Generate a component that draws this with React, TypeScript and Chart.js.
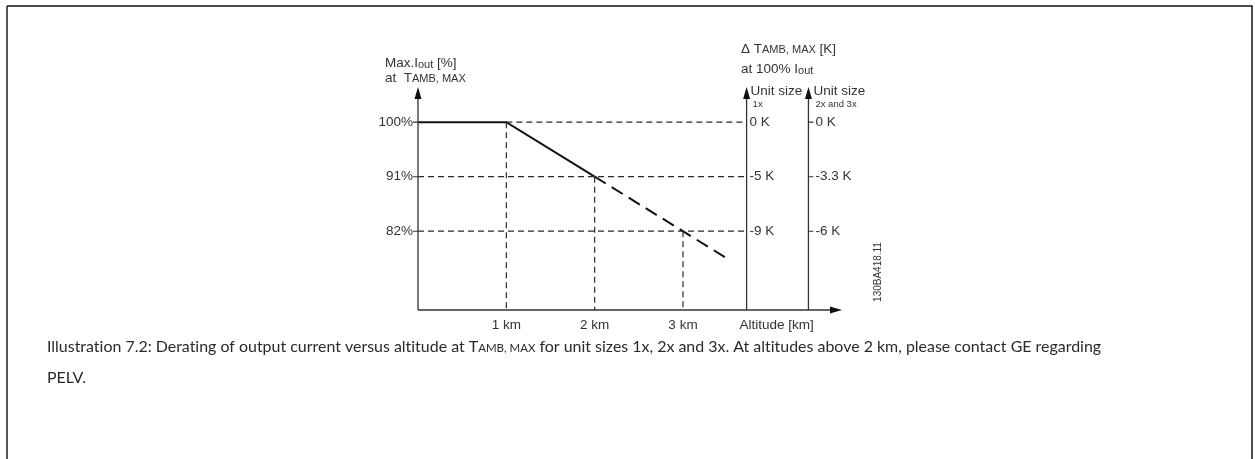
import React, { useEffect, useRef } from "react";
import { Chart, registerables } from "chart.js";

Chart.register(...registerables);

// ---- data ----
const DERATING_SOLID_KM = [0, 1, 2];
const DERATING_SOLID_PCT = [100, 100, 91];
const DERATING_DASHED_KM = [2, 3.5];
const DERATING_DASHED_PCT = [91, 77.5];

const LEVELS_PCT = [100, 91, 82];
const LEVEL_LABELS = ["100%", "91%", "82%"];
const LEVEL_START_KM = [1, 0, 0];
const DELTA_1X_LABELS = ["0 K", "-5 K", "-9 K"];
const DELTA_2X_LABELS = ["0 K", "-3.3 K", "-6 K"];

const KM_TICKS = [1, 2, 3];
const KM_LABELS = ["1 km", "2 km", "3 km"];
const KM_TICK_TOP_PCT = [100, 91, 82];

const AXIS_1X_KM = 3.72;
const AXIS_2X_KM = 4.42;
const X_MAX_KM = 4.8;
const Y_MIN_PCT = 69;
const Y_MAX_PCT = 105.8;

const CAPTION_A = "Illustration 7.2: Derating of output current versus altitude at T";
const CAPTION_SUB = "AMB, MAX";
const CAPTION_B = " for unit sizes 1x, 2x and 3x. At altitudes above 2 km, please contact GE regarding";
const CAPTION_LINE2 = "PELV.";

const LABEL_FONT = '"Liberation Sans", Arial, sans-serif';
const CAPTION_FONT = 'Lato, "Noto Sans", sans-serif';
const TEXT_COLOR = "#333";
const LINE_COLOR = "#2a2a2a";
const FS = 13.5;
const FS_SUB = 11;

type Part = { t: string; size: number; dy?: number };

// break "ti"/"fi" ligatures so caption reads like the reference
const noLig = (s: string) => s.replace(/([tf])([il])/g, "$1\u200C$2");

function drawParts(ctx: CanvasRenderingContext2D, x: number, y: number, parts: Part[], family: string) {
  let cx = x;
  for (const p of parts) {
    ctx.font = `${p.size}px ${family}`;
    ctx.fillText(p.t, cx, y + (p.dy || 0));
    cx += ctx.measureText(p.t).width;
  }
  return cx;
}

const overlay = {
  id: "overlay",
  afterDatasetsDraw(chart: any) {
    const ctx: CanvasRenderingContext2D = chart.ctx;
    const xs = chart.scales.x;
    const ys = chart.scales.y;
    const X = (v: number) => xs.getPixelForValue(v);
    const Y = (v: number) => ys.getPixelForValue(v);
    const x0 = X(0);
    const yb = Y(Y_MIN_PCT);
    const yt = Y(Y_MAX_PCT);
    const xe = X(X_MAX_KM);

    ctx.save();
    // frame
    ctx.strokeStyle = "#555";
    ctx.lineWidth = 2;
    ctx.beginPath();
    ctx.moveTo(7, 459);
    ctx.lineTo(7, 6);
    ctx.stroke();
    ctx.strokeStyle = "#111";
    ctx.lineWidth = 1.5;
    ctx.beginPath();
    ctx.moveTo(7, 6);
    ctx.lineTo(1252, 6);
    ctx.lineTo(1252, 459);
    ctx.stroke();

    // axes
    ctx.strokeStyle = "#333";
    ctx.fillStyle = "#111";
    ctx.lineWidth = 1.3;
    const vAxis = (px: number) => {
      ctx.beginPath();
      ctx.moveTo(px, yb);
      ctx.lineTo(px, yt + 10);
      ctx.stroke();
      ctx.beginPath();
      ctx.moveTo(px, yt);
      ctx.lineTo(px - 3.5, yt + 12);
      ctx.lineTo(px + 3.5, yt + 12);
      ctx.closePath();
      ctx.fill();
    };
    vAxis(x0);
    vAxis(X(AXIS_1X_KM));
    vAxis(X(AXIS_2X_KM));
    ctx.beginPath();
    ctx.moveTo(x0, yb);
    ctx.lineTo(xe - 10, yb);
    ctx.stroke();
    ctx.beginPath();
    ctx.moveTo(xe, yb);
    ctx.lineTo(xe - 12, yb - 3.5);
    ctx.lineTo(xe - 12, yb + 3.5);
    ctx.closePath();
    ctx.fill();

    // ticks
    ctx.lineWidth = 1.1;
    const x2 = X(AXIS_2X_KM);
    LEVELS_PCT.forEach((v) => {
      ctx.beginPath();
      ctx.moveTo(x0 - 5, Y(v));
      ctx.lineTo(x0, Y(v));
      ctx.moveTo(x2, Y(v));
      ctx.lineTo(x2 + 5, Y(v));
      ctx.stroke();
    });

    // tick labels
    ctx.fillStyle = TEXT_COLOR;
    ctx.font = `${FS}px ${LABEL_FONT}`;
    ctx.textBaseline = "middle";
    ctx.textAlign = "right";
    LEVELS_PCT.forEach((v, i) => ctx.fillText(LEVEL_LABELS[i], x0 - 5, Y(v)));
    ctx.textAlign = "left";
    const x1 = X(AXIS_1X_KM);
    LEVELS_PCT.forEach((v, i) => {
      ctx.fillText(DELTA_1X_LABELS[i], x1 + 3, Y(v));
      ctx.fillText(DELTA_2X_LABELS[i], x2 + 7, Y(v));
    });
    ctx.textAlign = "center";
    KM_TICKS.forEach((k, i) => ctx.fillText(KM_LABELS[i], X(k), yb + 15));
    ctx.fillText("Altitude [km]", X(AXIS_1X_KM) + 30, yb + 15);

    // axis titles
    ctx.textAlign = "left";
    drawParts(ctx, 385, 63, [
      { t: "Max.I", size: FS },
      { t: "out", size: FS_SUB, dy: 2 },
      { t: " [%]", size: FS },
    ], LABEL_FONT);
    drawParts(ctx, 385, 78, [
      { t: "at  T", size: FS },
      { t: "AMB, MAX", size: FS_SUB, dy: 0.8 },
    ], LABEL_FONT);
    drawParts(ctx, 741, 49, [
      { t: "Δ T", size: FS },
      { t: "AMB, MAX", size: FS_SUB, dy: 0.8 },
      { t: " [K]", size: FS },
    ], LABEL_FONT);
    drawParts(ctx, 741, 69, [
      { t: "at 100% I", size: FS },
      { t: "out", size: FS_SUB, dy: 2 },
    ], LABEL_FONT);
    drawParts(ctx, x1 + 4, 91, [{ t: "Unit size", size: FS }], LABEL_FONT);
    drawParts(ctx, x1 + 6, 104, [{ t: "1x", size: 9.5 }], LABEL_FONT);
    drawParts(ctx, x2 + 5, 91, [{ t: "Unit size", size: FS }], LABEL_FONT);
    drawParts(ctx, x2 + 7, 104, [{ t: "2x and 3x", size: 9.5 }], LABEL_FONT);

    // rotated code
    ctx.save();
    ctx.translate(878, 272);
    ctx.rotate(-Math.PI / 2);
    ctx.textAlign = "center";
    ctx.font = `10px ${LABEL_FONT}`;
    ctx.fillText("130BA418.11", 0, 0);
    ctx.restore();

    // caption
    ctx.fillStyle = "#2a2a2a";
    ctx.textAlign = "left";
    ctx.textBaseline = "alphabetic";
    const a = noLig(CAPTION_A);
    const b = noLig(CAPTION_B);
    const base = 14;
    ctx.font = `${base}px ${CAPTION_FONT}`;
    const wA = ctx.measureText(a).width + ctx.measureText(b).width;
    ctx.font = `${base * 0.72}px ${CAPTION_FONT}`;
    const wS = ctx.measureText(CAPTION_SUB).width;
    const size = (base * 1055) / (wA + wS);
    drawParts(ctx, 47, 352, [
      { t: a, size },
      { t: CAPTION_SUB, size: size * 0.72 },
      { t: b, size },
    ], CAPTION_FONT);
    ctx.font = `${size}px ${CAPTION_FONT}`;
    ctx.fillText(CAPTION_LINE2, 47, 383);
    ctx.restore();
  },
};

function pts(xs: number[], ys: number[]) {
  return xs.map((x, i) => ({ x, y: ys[i] }));
}

export default function App() {
  const ref = useRef<HTMLCanvasElement>(null);
  useEffect(() => {
    if (!ref.current) return;
    const guide = {
      borderColor: LINE_COLOR,
      borderWidth: 1.2,
      borderDash: [6, 4],
      pointRadius: 0,
      fill: false,
    };
    const datasets: any[] = [];
    LEVELS_PCT.forEach((v, i) => {
      datasets.push({ ...guide, data: [{ x: LEVEL_START_KM[i], y: v }, { x: AXIS_1X_KM, y: v }] });
    });
    KM_TICKS.forEach((k, i) => {
      datasets.push({ ...guide, data: [{ x: k, y: KM_TICK_TOP_PCT[i] }, { x: k, y: Y_MIN_PCT }] });
    });
    datasets.push({
      data: pts(DERATING_SOLID_KM, DERATING_SOLID_PCT),
      borderColor: "#111",
      borderWidth: 2,
      pointRadius: 0,
      tension: 0,
    });
    datasets.push({
      data: pts(DERATING_DASHED_KM, DERATING_DASHED_PCT),
      borderColor: "#111",
      borderWidth: 2,
      borderDash: [13, 7],
      pointRadius: 0,
      tension: 0,
    });
    const chart = new Chart(ref.current, {
      type: "line",
      data: { datasets },
      options: {
        responsive: false,
        animation: false,
        events: [],
        layout: { padding: { left: 418, right: 1255 - 842, top: 87, bottom: 459 - 310 } },
        scales: {
          x: { type: "linear", min: 0, max: X_MAX_KM, display: false },
          y: { type: "linear", min: Y_MIN_PCT, max: Y_MAX_PCT, display: false },
        },
        plugins: { legend: { display: false }, tooltip: { enabled: false } },
        datasets: { line: { clip: false } as any },
      } as any,
      plugins: [overlay],
    });
    return () => chart.destroy();
  }, []);
  return (
    <div style={{ position: "fixed", left: 0, top: 0, width: 1255, height: 459, background: "#fff" }}>
      <canvas ref={ref} width={1255} height={459} />
    </div>
  );
}
